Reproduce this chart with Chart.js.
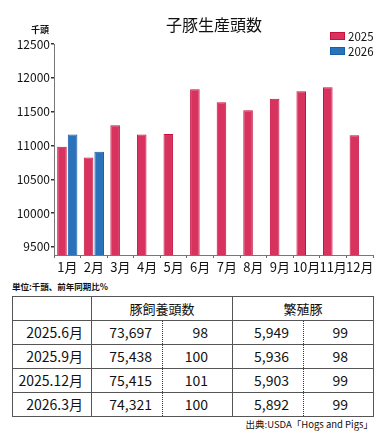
<!DOCTYPE html>
<html>
<head>
<meta charset="utf-8">
<script src="https://cdn.jsdelivr.net/npm/chart.js@4/dist/chart.umd.min.js"></script>
<style>
  html, body { margin:0; padding:0; background:#fff; }
  body { width:382px; height:435px; position:relative; overflow:hidden; font-family:"Noto Sans CJK JP","Noto Sans",sans-serif; color:#111; }
  #wrap { position:absolute; left:0; top:0; width:382px; height:280px; }
  #title { position:absolute; top:13px; left:114px; width:200px; text-align:center; font-size:16px; line-height:22px; }
  #unitY { position:absolute; top:24px; left:31px; font-size:9px; font-weight:bold; line-height:12px; }
  #legend { position:absolute; top:29px; left:330px; font-size:11.5px; line-height:14.5px; }
  #legend div { display:flex; align-items:center; height:14.5px; }
  #legend span.b { display:inline-block; width:15px; height:8px; margin-right:3px; box-sizing:border-box; }
  #unitT { position:absolute; top:280px; left:12px; font-size:8.5px; font-weight:bold; line-height:12px; }
  #src { position:absolute; top:417px; right:9px; font-size:9.5px; line-height:14px; }
  table { position:absolute; top:296px; left:12px; border-collapse:collapse; table-layout:fixed; width:361px; font-size:14px; }
  td { border:1px solid #555; height:23px; padding:0; line-height:23px; text-align:right; }
  td.c { text-align:center; font-size:13px; }
  td.dl { border-right:1px dotted #333; }
  td.dr { border-left:1px dotted #333; }
</style>
</head>
<body>
<div id="wrap"><canvas id="c" width="382" height="280"></canvas></div>
<div id="title"></div>
<div id="unitY"></div>
<div id="legend"></div>
<div id="unitT"></div>
<table id="tbl"></table>
<div id="src"></div>
<script>
const chartTitle = '子豚生産頭数';
const yUnit = '千頭';
const months = ['1月','2月','3月','4月','5月','6月','7月','8月','9月','10月','11月','12月'];
const seriesNames = ['2025','2026'];
const v2025 = [10980,10820,11300,11160,11170,11830,11640,11520,11690,11800,11860,11150];
const v2026 = [11160,10905,null,null,null,null,null,null,null,null,null,null];
const yTicks = [9500,10000,10500,11000,11500,12000,12500];
const yMin = 9380, yMax = 12500;

const tableUnit = '単位:千頭、前年同期比%';
const tableHead = ['豚飼養頭数','繁殖豚'];
const tableRows = ['2025.6月','2025.9月','2025.12月','2026.3月'];
const hogInventory = [73697,75438,75415,74321];
const hogYoY = [98,100,101,100];
const breeding = [5949,5936,5903,5892];
const breedingYoY = [99,98,99,99];
const source = '出典:USDA「Hogs and Pigs」';

const colors = [
  {fill:'#d8325f', border:'#c8103e'},
  {fill:'#2a72ba', border:'#1560aa'}
];

document.getElementById('title').textContent = chartTitle;
document.getElementById('unitY').textContent = yUnit;
document.getElementById('unitT').textContent = tableUnit;
document.getElementById('src').textContent = source;
const lg = document.getElementById('legend');
seriesNames.forEach((n,i)=>{
  const d = document.createElement('div');
  const b = document.createElement('span'); b.className='b';
  b.style.background = colors[i].fill; b.style.border = '1px solid '+colors[i].border;
  d.appendChild(b); d.appendChild(document.createTextNode(n)); lg.appendChild(d);
});

const fmt = n => n.toLocaleString('en-US');
const tbl = document.getElementById('tbl');
const cg = document.createElement('colgroup');
[79,71,70,71,70].forEach(w=>{const c=document.createElement('col'); c.style.width=w+'px'; cg.appendChild(c);});
tbl.appendChild(cg);
let h = '<tr><td></td><td class="c" colspan="2">'+tableHead[0]+'</td><td class="c" colspan="2">'+tableHead[1]+'</td></tr>';
tableRows.forEach((r,i)=>{
  h += '<tr><td style="padding-right:8px">'+r+'</td>'+
       '<td class="dl" style="padding-right:10px">'+fmt(hogInventory[i])+'</td>'+
       '<td class="dr" style="padding-right:24px">'+hogYoY[i]+'</td>'+
       '<td class="dl" style="padding-right:14px">'+fmt(breeding[i])+'</td>'+
       '<td class="dr" style="padding-right:25px">'+breedingYoY[i]+'</td></tr>';
});
tbl.insertAdjacentHTML('beforeend', h);

const font = "'Noto Sans CJK JP','Noto Sans',sans-serif";
new Chart(document.getElementById('c'), {
  type:'bar',
  data:{
    labels: months,
    datasets:[
      {label:seriesNames[0], data:v2025, backgroundColor:colors[0].fill, borderColor:colors[0].border, borderWidth:1, borderSkipped:'bottom'},
      {label:seriesNames[1], data:v2026, backgroundColor:colors[1].fill, borderColor:colors[1].border, borderWidth:1, borderSkipped:'bottom'}
    ]
  },
  options:{
    responsive:false, animation:false,
    layout:{padding:{top:44, right:9, left:0, bottom:0}},
    plugins:{legend:{display:false}, title:{display:false}, tooltip:{enabled:false}},
    datasets:{bar:{categoryPercentage:0.8, barPercentage:0.9}},
    scales:{
      x:{
        grid:{display:true, drawOnChartArea:false, offset:true, tickLength:3, color:'#666'},
        border:{display:true, color:'#777', width:1},
        ticks:{color:'#111', font:{family:font, size:13}, padding:1, maxRotation:0, autoSkip:false},
        afterFit: s => { s.height = 25; }
      },
      y:{
        min:yMin, max:yMax,
        grid:{display:true, drawOnChartArea:false, tickLength:3, color:'#333', lineWidth:1.5},
        border:{display:true, color:'#777', width:1},
        ticks:{color:'#111', font:{family:font, size:12}, padding:1, callback: v => String(v)},
        afterBuildTicks: s => { s.ticks = yTicks.map(v=>({value:v})); },
        afterFit: s => { s.width = 54; }
      }
    }
  }
});
</script>
</body>
</html>
